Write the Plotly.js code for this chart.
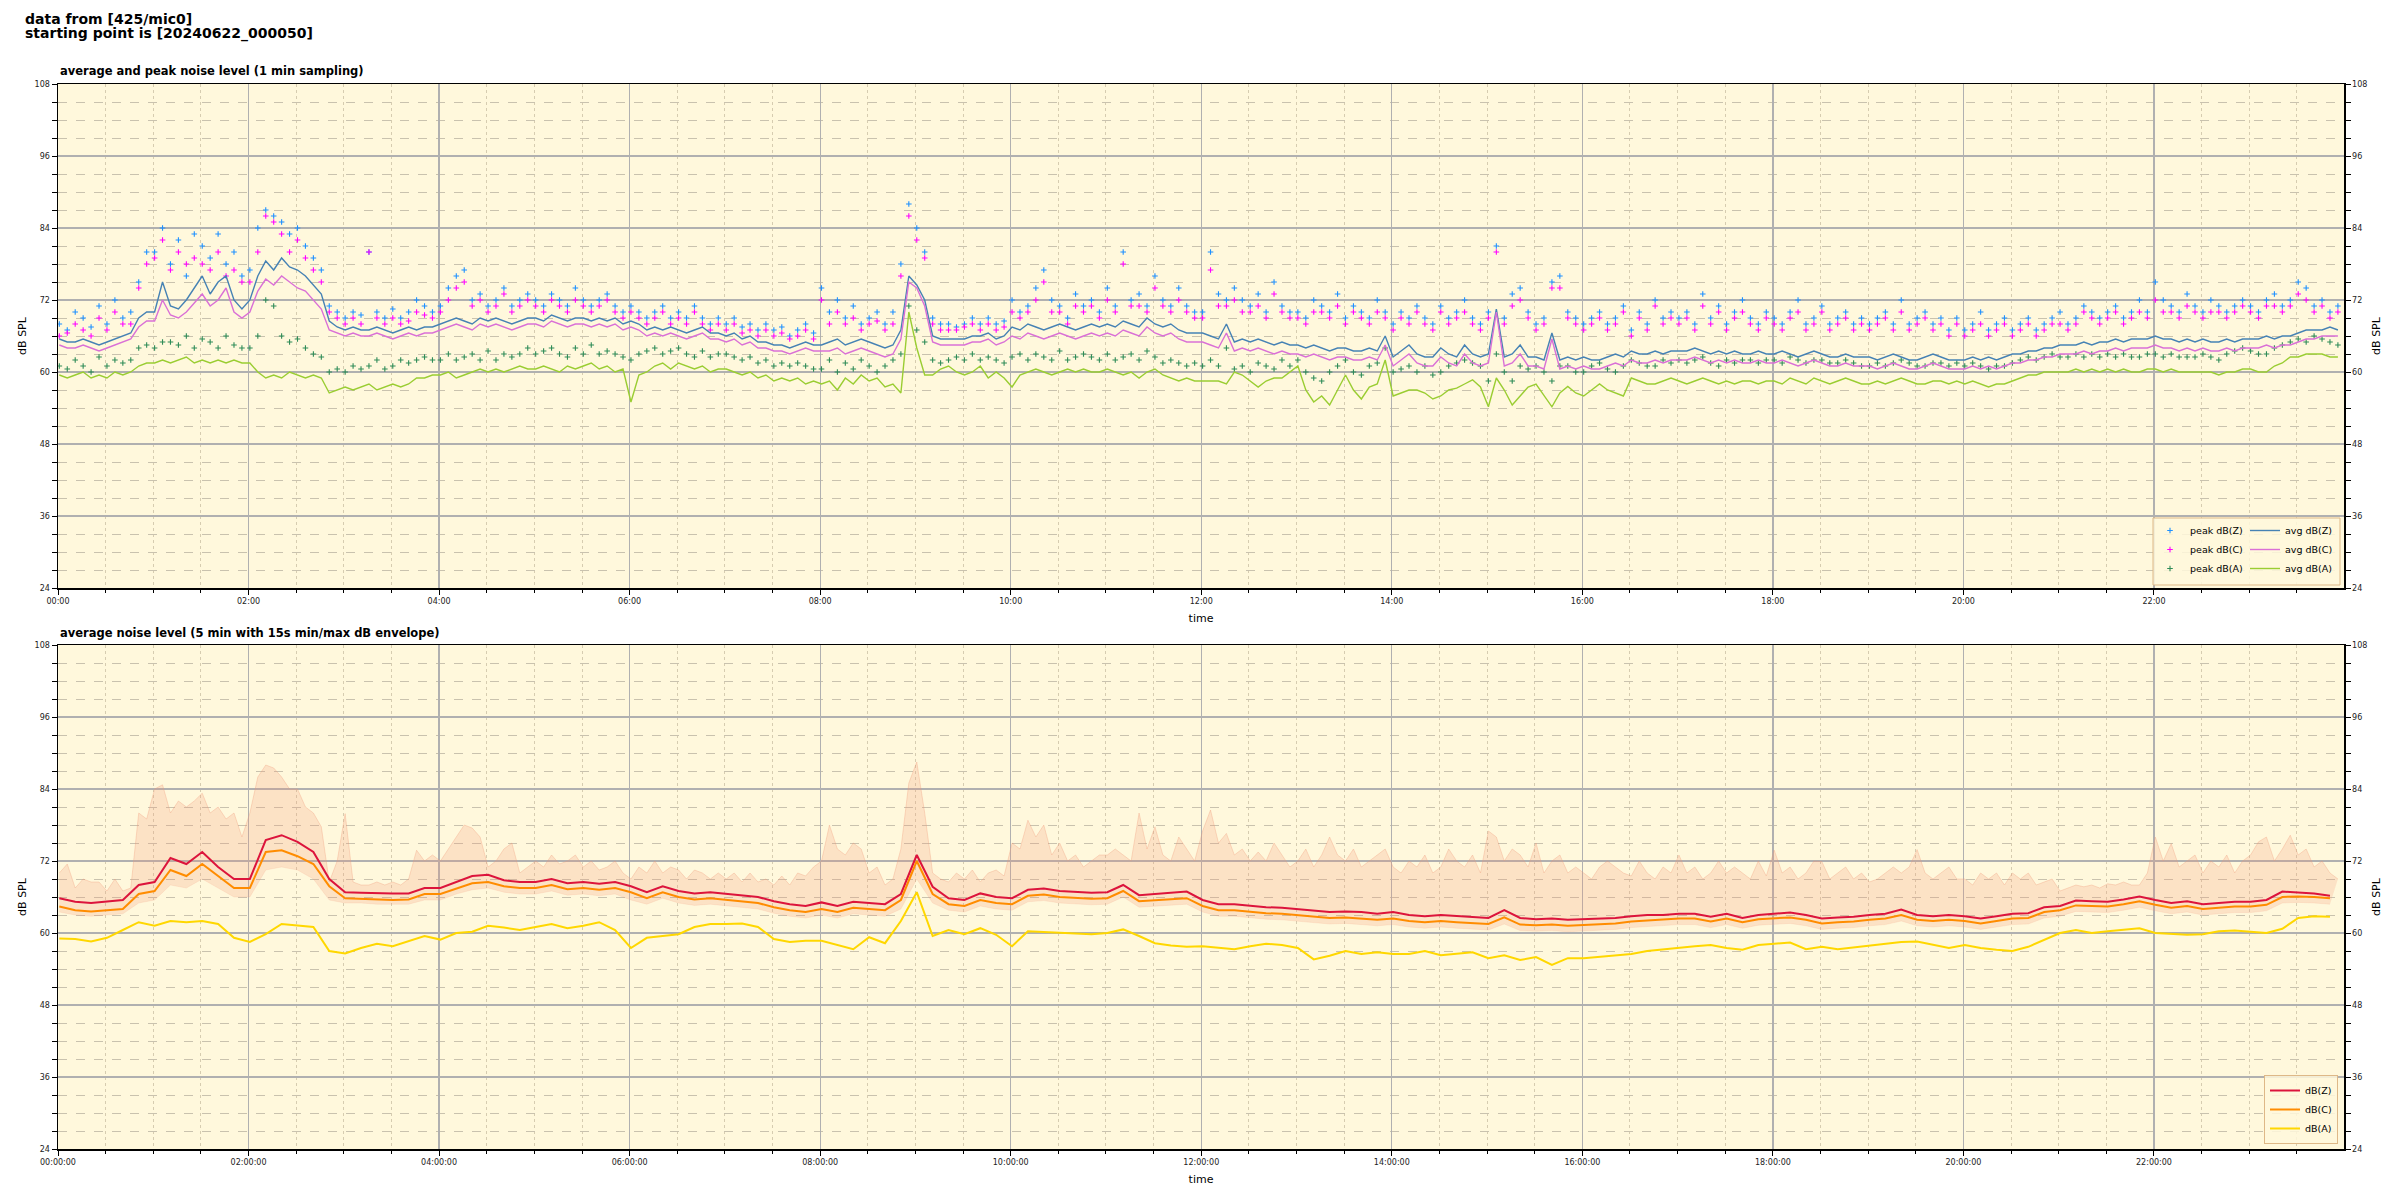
<!DOCTYPE html>
<html>
<head>
<meta charset="utf-8">
<script src="https://cdn.plot.ly/plotly-3.0.1.min.js"></script>
<style>html,body{margin:0;padding:0;background:#fff;}#chart{width:2400px;height:1200px;}</style>
</head>
<body>
<div id="chart"></div>
<script>
// ---------- data ----------
// top panel: 1-min sampling, shown here every 5 min starting 00:00:50
const startTime = '2024-06-22T00:00:50Z';
const stepTop = 5;      // minutes between samples (top panel + envelope max)
const stepBottom = 10;  // minutes between samples (bottom lines + envelope min)

const avgZ = [
65.5,65,65,65.5,65,64.5,65,65.5,66,66.5,69,70,
70,75,71,70.5,72,74,76,73,75,76,72,70.5,
72,76,78.5,77,79,77.5,77,76,74.5,73,68.5,67.5,
67,67.5,67,67,67.5,67,66.5,67,67.5,67,67.5,67.5,
68,68.5,69,68.5,68,69,68.5,69,68.5,68,68.5,69,
69,68.5,69.5,69,68.5,69,69,68.5,69,68.5,69,68,
68.5,68,67,67.5,67,67.5,67,66.5,67,67.5,66.5,66.5,
66,66.5,65.5,66,65,65,64.5,64.5,64,64.5,65,64.5,
64.5,65,65.5,64.5,65,65.5,65,64.5,64,64.5,67,76,
74.5,72,66,65.5,65.5,65.5,65.5,66,66,66.5,65.5,66,
67.5,67,68,67.5,67,67.5,68,67.5,67,67.5,68,67.5,
68,67.5,68.5,68,67.5,69,68,67.5,68,67,66.5,66.5,
66.5,66,65.5,68,65,65.5,65,65.5,65,64.5,65,64.5,
64.5,64,64.5,64,63.5,64,64,63.5,63.5,64,63.5,66,
62.5,63.5,64.5,63,62.5,62.5,64,63,62.5,64.5,63,62.5,
63,70.5,62.5,63,64.5,62.5,62.5,62,66.5,62,62.5,62,
62.5,62,62,62.5,63,62.5,63.5,63,63,63.5,63,63.5,
63.5,63.5,64,63.5,63,63.5,63,63.5,63,63,63.5,63,
63,63.5,63,62.5,63,63.5,63,62.5,62.5,63,62.5,62.5,
62.5,62,62.5,63,62.5,62,62,62.5,63,62.5,62,62,
62,62.5,62,62.5,62,62.5,63,63,63.5,63.5,64,64,
64.5,64.5,64.5,65,64.5,65,65,65.5,65,65.5,65.5,65.5,
66,65.5,65.5,65,65.5,65,65.5,65,65,65.5,65,65.5,
65.5,65.5,66,65.5,66,66,66.5,67,67,67,67.5,67
];
const avgC = [
64.5,64,64,64.5,64,63.5,64,64.5,65,65.5,67.5,68.5,
68.5,72,69.5,69,70,71.5,73,71,72,74,70,69,
70,73.5,75.5,74.5,76,75,74,73.5,72,70.5,67,66.5,
66,66.5,66,66,66.5,66,65.5,66,66.5,66,66.5,66.5,
67,67.5,68,67.5,67,68,67.5,68,67.5,67,67.5,68,
68,67.5,68.5,68,67.5,68,68,67.5,68,67.5,68,67,
67.5,67,66,66.5,66,66.5,66,65.5,66,66.5,65.5,65.5,
65,65.5,64.5,65,64,64,63.5,63.5,63,63.5,64,63.5,
63.5,63.5,64,63,63.5,64,63.5,63,62.5,63,65.5,75,
74,71,65,64.5,64.5,64.5,64.5,65,65,65.5,64.5,65,
66,65.5,66.5,66,65.5,66,66.5,66,65.5,66,66.5,66,
66.5,66,67,66.5,66,67.5,66.5,66,66.5,65.5,65,65,
65,64.5,64,66.5,63.5,64,63.5,64,63.5,63,63.5,63,
63,62.5,63,62.5,62,62.5,62.5,62,62,62.5,62,64.5,
61,62,63,61.5,61,61,62.5,61.5,61,63,61.5,61,
61.5,70,61,61.5,63,61,61,60.5,65.5,60.5,61,60.5,
61,60.5,60.5,61,61.5,61,62,61.5,61.5,62,61.5,62,
62,62,62.5,62,61.5,62,61.5,62,61.5,61.5,62,61.5,
61.5,62,61.5,61,61.5,62,61.5,61,61,61.5,61,61,
61,60.5,61,61.5,61,60.5,60.5,61,61.5,61,60.5,60.5,
60.5,61,60.5,61,60.5,61,61.5,61.5,62,62,62.5,62.5,
63,63,63,63.5,63,63.5,63.5,64,63.5,64,64,64,
64.5,64,64,63.5,64,63.5,64,63.5,63.5,64,63.5,64,
64,64,64.5,64,64.5,64.5,65,65.5,65.5,66,66,66
];
const avgA = [
59.5,59,59.5,60,59,59.5,59,60,59.5,60,61,61.5,
61.5,62,61.5,62,62.5,61.5,62,61.5,62,61.5,62,61.5,
61.5,60,59,59.5,59,60,59.5,59,59.5,59,56.5,57,
57.5,57,57.5,58,57,57.5,58,57.5,58,59,59,59.5,
59.5,60,59,59.5,60,60.5,60,60.5,60,60.5,61,60.5,
60.5,61,60.5,60,61,60.5,61,61.5,60.5,61,60,60.5,
55,59.5,60,61,61.5,60.5,61.5,61,60.5,61,60,60.5,
60.5,60,59.5,60,59,59.5,58.5,59,58.5,59,58,58.5,
58,58.5,57,59,58,59.5,58.5,59,57.5,58,56.5,70,
64,59.5,59.5,60.5,61,60,59.5,60,61,59,60,59,
57.5,59.5,60,60.5,60,59.5,60,60.5,60,60.5,60,60,
60.5,60,59.5,60,59,60,60.5,59.5,59,58.5,59,58.5,
58.5,58.5,58.5,58,60,59.5,58.5,57.5,58.5,59,59,60,
61,57,55,56,54.5,57,59.5,57,55.5,57.5,58,62,
56,56.5,57,57,56.5,55.5,56,57,57.3,58,58.7,57.5,
54.2,59,57,54.5,56,57.5,58,56,54.2,56.5,57.6,56.5,
56,57,58,57,56.5,56,59,58.5,58,58,58.5,59,
58.5,58,58.5,59,58.5,58,58.5,58,58.5,58.5,58,58.5,
58.5,58,59,58.5,58,59,58.5,58,58.5,59,58.5,58,
58,58.5,58,58.5,59,58.5,58,58,58.5,58.5,58,58.5,
58,58.5,58,57.5,58,58,58.5,59,59.5,59.5,60,60,
60,60,60.5,60,60.5,60,60.5,60,60.5,60,60,60.5,
60.5,60,60.5,60,60,60,60,60,59.5,60,60,60.5,
60.5,60,60,61,61.5,62.5,62.5,63,63,63,62.5,62.5
];
const peakZ = [
68,67,70,69,67.5,71,68,72,69,70,75,80,
80,84,78,82,76,83,81,79,83,78,80,76,
77,84,87,86,85,83,84,81,79,77,71,70,
69,70,69.5,80,70,69,70.5,69,70,72,71,70,
71,74,76,77,72,73,71,72,74,71,72,73,
72,71,73,72,71,74,72,71,72,73,71,70,
71,70,69,70,71,69,70,69,71,69,68,69,
68,69,67.5,68,67,68,67,67.5,66,67,68,66.5,
74,70,72,69,71,68,69,70,68,70,78,88,
84,80,69,68,68,67.5,68,69,68,69,68,68.5,
72,70,71,74,77,72,71,69,73,71,72,70,
74,71,80,72,73,71,76,72,71,74,71,70,
70,80,73,72,74,72,71,73,70,75,71,70,
70,69,72,71,70,73,69,71,70,69,72,70,
68,70,69,71,69,68,71,69,70,72,69,68,
70,81,69,73,74,70,68,69,75,76,70,69,
68,69,70,68,69,71,67,70,68,72,69,70,
69,70,68,73,69,71,68,70,72,69,68,70,
69,68,70,72,68,69,71,68,69,70,68,69,
68,69,70,68,72,68,69,70,68,69,67,69,
67,68,70,67,68,69,67,68,69,67,68,69,
70,68,69,71,70,69,70,71,69,70,72,70,
75,72,71,70,73,71,70,72,71,70,71,72,
71,70,72,73,71,72,75,74,71,72,70,71
];
const peakC = [
66,66.5,68,67,66,69,67,70,68,68,74,78,
79,82,77,80,78,79,78,77,80,76,77,75,
75,80,86,85,83,80,82,79,77,75,70,69,
68,69,68,80,69,68,69,68,68.5,70,69.5,69,
70,72,74,75,71,72,70,71,73,70,71,72,
71,70,72,71,70,72,71,70,71,72,70,69,
70,69,68,69,70,68,69,68,70,68,67,68,
67,68,66.5,67,66,67,66,66.5,65.5,66,67,65.5,
72,68,70,68,69,67,68,68.5,67,68,76,86,
82,79,68,67,67,67,67.5,68,67,68,67,67.5,
70,69,70,72,75,70,70,68,71,70,71,69,
72,70,78,71,71,70,74,71,70,72,70,69,
69,77,71,71,72,70,70,71,69,73,70,69,
69,68,70,70,69,71,68,70,69,68,70,69,
67,69,68,70,68,67,70,68,69,70,68,67,
69,80,68,71,72,69,67,68,74,74,69,68,
67,68,69,67,68,70,66,69,67,71,68,69,
68,69,67,71,68,70,67,69,70,68,67,69,
68,67,69,70,67,68,70,67,68,69,67,68,
67,68,69,67,70,67,68,69,67,68,66,68,
66,67,68,66,67,68,66,67,68,66,67,68,
68,67,68,70,69,68,69,70,68,69,70,69,
72,70,70,69,71,70,69,70,70,69,70,71,
70,69,71,71,70,71,73,72,70,71,69,70
];
const peakA = [
61,60.5,62,61,60,62.5,61,62,61.5,62,64,64.5,
64,65,65,64.5,66,64,65.5,65,64,66,64.5,64,
64,66,72,71,66,65,65.5,64,63,62.5,60,60.5,
60,61,60.5,61,62,60.5,61,62,61.5,62,62.5,62,
62,63,62,62.5,63,62,63.5,62,63,62.5,63,64,
63,63.5,64,63,62.5,64,63,64.5,63,63.5,63,62.5,
62,63,63.5,64,63,63.5,64,63,62.5,63.5,62.5,63,
63,62.5,62,62.5,61.5,62,61,61.5,61,61.5,61,60.5,
60.5,62,60,61.5,60.5,62,61,60,61,62,63,71,
67,65,62,61.5,62,62.5,62,63,62,62.5,62,61.5,
62.5,63,62,63,62.5,62,63.5,62,62.5,63,62.5,62,
63,62,62.5,63,62,63.5,62.5,61.5,62,61.5,61,61.5,
61,62,61,64,60.5,61,60,61.5,61,60.5,62,61,
62,60,59,58.5,60,61,62,60,59.5,61,61.5,64,
60,60.5,61,60,61,59.5,60,61,61.5,62,61.5,61,
58.5,63,60,58.5,61,60.5,61,60,58.5,61,61,60,
60,61,61.5,60.5,60,61,62,61.5,61,61,62,61.5,
62,61.5,62,62.5,61.5,61,62,61.5,62,62,61.5,62,
62,61.5,62.5,62,61.5,62,62,61.5,61.5,62,61.5,61,
61,61.5,61,61.5,62,61.5,61,61,61.5,61.5,61,61.5,
61,61.5,61,60.5,61,61,61.5,62,62.5,62,62.5,63,
62.5,62.5,63,62.5,63,62.5,63,62.5,63,62.5,62.5,63,
63,62.5,63,62.5,62.5,62.5,63,62.5,62,63,63.5,64,
63.5,63,63,64,64.5,65,65.5,65,66,65.5,65,64.5
];

// bottom panel: 5-min averages, shown every 10 min
const botZ = [
65.8,65.2,65,65.2,65.5,68,
68.5,72.5,71.5,73.5,71,69,
69,75.5,76.3,75.2,73.5,69,
66.8,66.7,66.6,66.6,66.6,67.5,
67.5,68.5,69.5,69.7,68.8,68.5,
68.5,69,68.3,68.5,68.2,68.5,
67.8,66.8,67.8,67,66.6,66.8,
66.5,66.3,66,65.3,64.8,64.5,
65.1,64.5,65.2,65,64.8,66.5,
73,67.7,65.8,65.5,66.6,66,
65.8,67.2,67.4,67,66.8,66.7,
66.8,68,66.3,66.5,66.8,66.9,
65.5,64.8,64.8,64.5,64.3,64.2,
64,63.8,63.5,63.6,63.5,63.2,
63.5,63,62.8,63,62.8,62.7,
62.5,63.8,62.5,62.3,62.4,62.2,
62.3,62.3,62.5,62.8,63,63,
63.2,63.2,62.7,63.2,62.5,63,
63.2,63.4,63,62.4,62.6,62.7,
63,63.2,63.9,63,62.8,63,
62.8,62.4,62.8,63.2,63.3,64.3,
64.5,65.4,65.3,65.2,65.6,66.1,
65.5,65,65.3,64.8,65,65.2,
65.2,65.5,66.9,66.8,66.6,66.2
];
const botC = [
64.4,63.8,63.6,63.8,64,66.5,
67,70.5,69.5,71.5,69.5,67.5,
67.5,73.5,73.8,72.8,71.5,67.8,
65.8,65.7,65.6,65.5,65.6,66.5,
66.5,67.4,68.3,68.5,67.8,67.5,
67.5,68,67.3,67.5,67.2,67.5,
66.8,65.8,66.8,66,65.6,65.8,
65.5,65.3,65,64.3,63.8,63.5,
64,63.5,64.2,64,63.8,65.5,
72,66.5,64.8,64.5,65.5,65,
64.8,66.2,66.4,66,65.8,65.7,
65.8,67,65.3,65.5,65.7,65.8,
64.5,63.8,63.8,63.5,63.3,63.2,
63,62.8,62.5,62.6,62.4,62.2,
62.4,62,61.8,62,61.8,61.7,
61.5,62.6,61.4,61.3,61.4,61.2,
61.3,61.4,61.6,61.9,62.1,62.2,
62.4,62.4,61.9,62.4,61.8,62.3,
62.4,62.6,62.2,61.6,61.8,61.9,
62.2,62.4,63,62.2,62,62.2,
62,61.6,62,62.4,62.5,63.5,
63.8,64.6,64.5,64.4,64.8,65.3,
64.7,64.2,64.5,64,64.2,64.4,
64.4,64.7,66,66.1,66,65.8
];
const botA = [
59.1,59,58.6,59.2,60.5,61.8,
61.2,62,61.8,62,61.5,59.2,
58.5,59.8,61.5,61.2,61,57,
56.6,57.5,58.2,57.8,58.7,59.5,
58.9,60,60.2,61.2,60.9,60.5,
61,61.5,60.8,61.2,61.8,60.5,
57.5,59.2,59.5,59.8,61,61.5,
61.5,61.6,61,59,58.5,58.7,
58.7,58,57.3,59.3,58.3,62,
66.8,59.5,60.5,59.8,60.8,59.7,
57.8,60.3,60.2,60,60,59.8,
60,60.6,59.5,58.3,57.9,57.7,
57.8,57.5,57.3,57.8,58.2,58,
57.5,55.6,56.2,57,56.5,56.8,
56.5,56.5,57,56.3,56.5,56.8,
55.8,56.3,55.5,56,54.7,55.8,
55.8,56,56.3,56.5,57,57.3,
57.5,57.8,58,57.5,57.2,58,
58.2,58.4,57.3,57.7,57.3,57.6,
57.8,58.2,58.5,58.6,58,57.5,
58,57.5,57.2,57,57.7,58.8,
60,60.5,60,60.3,60.5,60.8,
60,59.8,59.7,59.8,60.3,60.4,
60.2,60,60.7,62.5,62.8,62.7
];
// 15 s min / max envelope
const envMin = [
63.5,63,62.8,63,63.2,65,
65.5,68,67.5,69,67.5,66,
66,70.5,71,70.5,69,65.5,
65,65,64.8,64.8,64.8,65.5,
65.5,66.5,67.2,67.5,66.8,66.5,
66.5,67,66.3,66.5,66.2,66.5,
65.5,64.8,65.8,65,64.6,64.8,
64.5,64.3,64,63.3,62.8,62.5,
63,62.5,63.2,63,62.8,64,
69,65,63.8,63.5,64.5,64,
63.8,65.2,65.4,65,64.8,64.7,
64.8,66,64.3,64.5,64.7,64.8,
63.5,62.8,62.8,62.5,62.3,62.2,
62,61.8,61.5,61.6,61.4,61.2,
61.4,61,60.8,61,60.8,60.7,
60.5,61.5,60.4,60.3,60.4,60.2,
60.3,60.4,60.6,60.9,61.1,61.2,
61.4,61.4,60.9,61.4,60.8,61.3,
61.4,61.6,61.2,60.6,60.8,60.9,
61.2,61.4,62,61.2,61,61.2,
61,60.6,61,61.4,61.5,62.5,
62.8,63.6,63.5,63.4,63.8,64.3,
63.7,63.2,63.5,63,63.2,63.4,
63.4,63.7,65,65.1,65,64.8
];
const envMax = [
70,71.5,67.5,69,68.5,68.5,67,69,67,67.5,80,79,
84,84.7,80,82,81,82,83.3,80,81,79,80,76,
80,86,88,87.5,86,84,84,81,80,77.7,68.5,72,
79.9,68.5,68,68,68.5,68,68.5,68,69,73.8,72,73,
72,74,76,78,77.5,76,71,72,74,75,70,71,
72,71,73,71.5,72,73,71,72,70.5,71,72,70,
69,71,70,72,70,71,70.5,69,70.5,70,69,70,
69,70,68.5,70,68.5,69,68,69.5,68,70,69.5,71,
72,78,74,73,75,74,70,71,68,69,74,85,
88.5,80,70,69,68.5,70,69,70.5,68.5,70,70.5,69.5,
75,74,78.8,76,78,73,75,72,73,71,72,73,
73,74,73,72,80,74,77.7,73,72,76,74,72,
77,80.5,75,76.6,73,74,72,73.5,72,75,73,71,
72,74,71,73,76,73,72,74,71,72,73,74,
71,70,72,71,73,70,71,74,72,71,73,70,
77,76,72,74,73,71,75,70,72,73,70,71,
70,69,71,72,71,70,69.5,72,70,69,71,70,
73,70,71,69,70,72,70,71,70,69,72,69.5,
73.8,70,71,69,70,72,71.9,69,70,71,69,70,
68.5,69,70,71,70,71,73.9,70,69,70,71,69,
69,68,70,69,70,68,70,69,70,68,68.5,69,
67,67.5,68,67.7,68,67.5,68.2,68,68.5,68,68,70,
76,72,74.9,71,72,73,70,72,71,73,70,72,
73,75.2,76,72,74,76.3,73,74,71,72,70,69
];

// axis labels / texts
const mainTitle1 = 'data from [425/mic0]';
const mainTitle2 = 'starting point is [20240622_000050]';
const topTitle = 'average and peak noise level (1 min sampling)';
const bottomTitle = 'average noise level (5 min with 15s min/max dB envelope)';
const yTitle = 'dB SPL';
const xTitle = 'time';
const xRange = ['2024-06-22 00:00:00', '2024-06-22 23:59:40'];
const yRange = [24, 108];

// ---------- helpers ----------
function times(n, stepMin) {
  const t0 = Date.parse(startTime);
  const out = [];
  for (let i = 0; i < n; i++) {
    out.push(new Date(t0 + i * stepMin * 60000).toISOString().slice(0, 19).replace('T', ' '));
  }
  return out;
}
const xT = times(avgZ.length, stepTop);
const xB = times(botZ.length, stepBottom);
const xEmax = times(envMax.length, stepTop);
const xEmin = times(envMin.length, stepBottom);

const FONT = 'DejaVu Sans';
function peakTrace(y, name, color) {
  return {x: times(y.length, stepTop), y: y, name: name, type: 'scatter', mode: 'markers',
    xaxis: 'x', yaxis: 'y', legend: 'legend', hoverinfo: 'skip',
    marker: {symbol: 'cross-thin', size: 4, color: color, line: {width: 1.1, color: color}}};
}
function avgTrace(y, name, color) {
  return {x: xT, y: y, name: name, type: 'scatter', mode: 'lines', xaxis: 'x', yaxis: 'y',
    legend: 'legend2', hoverinfo: 'skip', line: {color: color, width: 1.4}};
}
function botTrace(y, name, color) {
  return {x: xB, y: y, name: name, type: 'scatter', mode: 'lines', xaxis: 'x2', yaxis: 'y2',
    legend: 'legend3', hoverinfo: 'skip', line: {color: color, width: 2}};
}

const traces = [
  peakTrace(peakZ, 'peak dB(Z)', '#1e90ff'),
  peakTrace(peakC, 'peak dB(C)', '#ff00ff'),
  peakTrace(peakA, 'peak dB(A)', '#2e8b57'),
  avgTrace(avgZ, 'avg dB(Z)', '#4682b4'),
  avgTrace(avgC, 'avg dB(C)', '#da70d6'),
  avgTrace(avgA, 'avg dB(A)', '#9acd32'),
  // right-side axes carriers (invisible)
  {x: xT, y: avgZ, xaxis: 'x', yaxis: 'y3', mode: 'lines', opacity: 0, showlegend: false, hoverinfo: 'skip', line: {width: 0}},
  // envelope
  {x: xEmin, y: envMin, xaxis: 'x2', yaxis: 'y2', mode: 'lines', showlegend: false, hoverinfo: 'skip',
    line: {width: 0.5, color: 'rgba(240,150,120,0.3)'}},
  {x: xEmax, y: envMax, xaxis: 'x2', yaxis: 'y2', mode: 'lines', fill: 'tonexty', showlegend: false, hoverinfo: 'skip',
    fillcolor: 'rgba(240,150,120,0.22)', line: {width: 0.8, color: 'rgba(240,150,120,0.4)'}},
  botTrace(botZ, 'dB(Z)', '#dc143c'),
  botTrace(botC, 'dB(C)', '#ff8c00'),
  botTrace(botA, 'dB(A)', '#ffd700'),
  {x: xB, y: botZ, xaxis: 'x2', yaxis: 'y4', mode: 'lines', opacity: 0, showlegend: false, hoverinfo: 'skip', line: {width: 0}}
];

function xAxis(fmt, anchor, titleStandoff) {
  return {
    type: 'date', range: xRange, domain: [0, 1], anchor: anchor,
    tickformat: fmt, tick0: '2024-06-22 00:00:00', dtick: 7200000,
    ticks: 'outside', ticklen: 5, tickwidth: 1, tickcolor: '#000',
    tickfont: {family: FONT, size: 8, color: '#222'},
    showgrid: true, gridcolor: '#b0b0b0', gridwidth: 1.3,
    minor: {dtick: 1800000, tick0: '2024-06-22 00:00:00', ticks: 'outside', ticklen: 3, tickcolor: '#000',
      showgrid: true, gridcolor: '#d6ccb0', griddash: 'dot', gridwidth: 1},
    showline: true, linecolor: '#000', linewidth: 1.5, mirror: true, zeroline: false,
    title: {text: xTitle, font: {family: FONT, size: 11, color: '#000'}, standoff: titleStandoff}
  };
}
function yAxis(domain, anchor, side, overlay) {
  const a = {
    range: yRange, anchor: anchor, side: side,
    tick0: 24, dtick: 12, ticks: 'outside', ticklen: 5, tickcolor: '#000',
    tickfont: {family: FONT, size: 8, color: '#222'},
    minor: {dtick: 3, tick0: 24, ticks: 'outside', ticklen: 5, tickcolor: '#000',
      showgrid: !overlay, gridcolor: '#c9c2ae', griddash: 'dash', gridwidth: 1},
    showgrid: !overlay, gridcolor: '#b0b0b0', gridwidth: 1.3, zeroline: false,
    showline: true, linecolor: '#000', linewidth: 1.5, mirror: !overlay,
    title: {text: yTitle, font: {family: FONT, size: 11, color: '#000'}, standoff: 6}
  };
  if (overlay) { a.overlaying = overlay; } else { a.domain = domain; }
  return a;
}

const H = 1200, L = 58, R = 56, PW = 2400 - L - R;
const px = v => (v - L) / PW;
const py = v => 1 - v / H;

const legendBase = {bgcolor: 'rgba(0,0,0,0)', borderwidth: 0, font: {family: FONT, size: 9.5}, itemwidth: 30,
  traceorder: 'normal', xanchor: 'right', yanchor: 'bottom'};

const layout = {
  width: 2400, height: 1200,
  margin: {l: L, r: R, t: 0, b: 0, pad: 0},
  paper_bgcolor: '#ffffff', plot_bgcolor: '#fff8dc',
  font: {family: FONT, size: 9, color: '#000'},
  showlegend: true,
  xaxis: xAxis('%H:%M', 'y', 9),
  yaxis: yAxis([py(588), py(84)], 'x', 'left', null),
  yaxis3: yAxis(null, 'x', 'right', 'y'),
  xaxis2: xAxis('%H:%M:%S', 'y2', 9),
  yaxis2: yAxis([py(1149), py(645)], 'x2', 'left', null),
  yaxis4: yAxis(null, 'x2', 'right', 'y2'),
  legend: Object.assign({}, legendBase, {x: px(2248), y: py(583)}),
  legend2: Object.assign({}, legendBase, {x: px(2338), y: py(583)}),
  legend3: Object.assign({}, legendBase, {x: px(2338), y: py(1144), bgcolor: 'rgba(255,248,220,0.85)',
    bordercolor: '#deb887', borderwidth: 1}),
  shapes: [
    {type: 'rect', xref: 'paper', yref: 'paper', x0: px(2153), x1: px(2340), y0: py(585), y1: py(518),
      fillcolor: 'rgba(255,248,220,0.85)', line: {color: '#deb887', width: 1}, layer: 'above'}
  ],
  annotations: [
    {text: '<b>' + mainTitle1 + '</b>', xref: 'paper', yref: 'paper', x: px(23), y: py(19), xanchor: 'left', yanchor: 'middle',
      showarrow: false, font: {family: FONT, size: 14, color: '#000'}},
    {text: '<b>' + mainTitle2 + '</b>', xref: 'paper', yref: 'paper', x: px(23), y: py(34), xanchor: 'left', yanchor: 'middle',
      showarrow: false, font: {family: FONT, size: 14, color: '#000'}},
    {text: '<b>' + topTitle + '</b>', xref: 'paper', yref: 'paper', x: px(58), y: py(71), xanchor: 'left', yanchor: 'middle',
      showarrow: false, font: {family: FONT, size: 11.5, color: '#000'}},
    {text: '<b>' + bottomTitle + '</b>', xref: 'paper', yref: 'paper', x: px(58), y: py(633), xanchor: 'left', yanchor: 'middle',
      showarrow: false, font: {family: FONT, size: 11.5, color: '#000'}}
  ]
};

Plotly.newPlot('chart', traces, layout, {staticPlot: true, displayModeBar: false});
</script>
</body>
</html>
